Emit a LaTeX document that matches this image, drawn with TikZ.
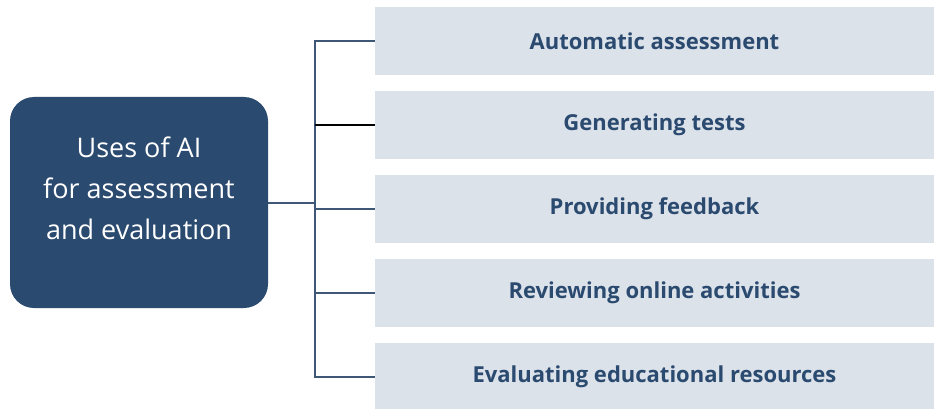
\documentclass[tikz,border=0pt]{standalone}
\usepackage{fontspec}
\setmainfont{Open Sans}
\newfontfamily\labelfont{Open Sans}
\usepackage{tikz}
\usetikzlibrary{calc}

\definecolor{navy}{HTML}{2B4A6F}
\definecolor{paleblue}{HTML}{DCE2EA}
\definecolor{linkblue}{HTML}{3E5777}

\tikzset{
  mainbox/.style={fill=navy, rounded corners=24pt, minimum width=258pt,
                  minimum height=211pt, inner sep=0pt},
  maintext/.style={text=white, align=center, font=\fontsize{27}{41}\selectfont},
  usebox/.style={fill=paleblue, minimum width=559pt, minimum height=68pt,
                 inner sep=0pt, text=navy,
                 font=\labelfont\bfseries\fontsize{22}{24}\selectfont},
  link/.style={draw=linkblue, line width=2pt},
}

\begin{document}
\begin{tikzpicture}[x=1pt,y=-1pt]
  \useasboundingbox (0,0) rectangle (934,409);
  %uncomment to see grid on which it was generated:
  %\draw[dotted,step=50,black,very thin] (0,0) grid (934,409);

  % the topic on the left
  \node[mainbox] (uses) at (139,202.5) {};
  \node[maintext] (usestxt) at ([yshift=14pt]uses.center)
       {Uses of AI\\for assessment\\and evaluation};

  % the five uses on the right
  \node[usebox] (auto)   at (654.5,41)  {Automatic assessment};
  \node[usebox] (tests)  at (654.5,125) {Generating tests};
  \node[usebox] (feed)   at (654.5,209) {Providing feedback};
  \node[usebox] (review) at (654.5,293) {Reviewing online activities};
  \node[usebox] (eval)   at (654.5,377) {Evaluating educational resources};

  % connectors
  \coordinate (bus) at (315,0);
  \draw[link] (uses.east) -- (uses.east -| bus);
  \draw[link, line cap=rect] (bus |- auto.west) -- (bus |- eval.west);
  \draw[link] (bus |- auto.west) -- (auto.west);
  \draw[line width=2pt, black] (bus |- tests.west) -- (tests.west);
  \draw[link] (bus |- feed.west) -- (feed.west);
  \draw[link] (bus |- review.west) -- (review.west);
  \draw[link] (bus |- eval.west) -- (eval.west);
\end{tikzpicture}
\end{document}
